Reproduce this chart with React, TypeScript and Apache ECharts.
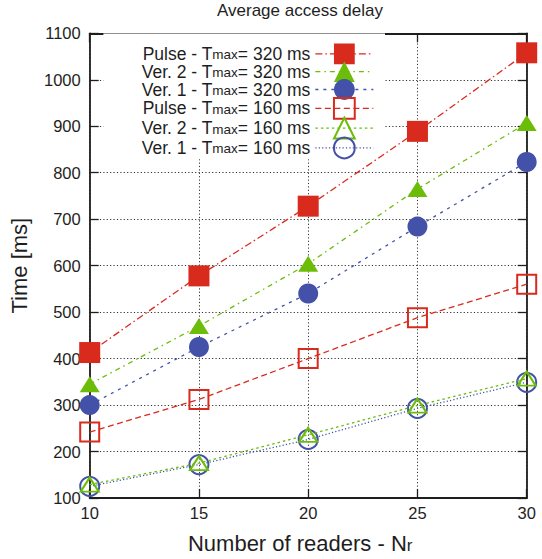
import React, { useEffect, useRef } from 'react';
import * as echarts from 'echarts';

const readers = [10, 15, 20, 25, 30];
const pulse320 = [413, 578, 728, 889, 1058];
const ver2_320 = [345, 470, 604, 765, 907];
const ver1_320 = [300, 425, 540, 684, 823];
const pulse160 = [242, 312, 400, 488, 560];
const ver2_160 = [129, 175, 236, 299, 357];
const ver1_160 = [125, 172, 226, 293, 349];

const seriesNames = [
  'Pulse - Tmax= 320 ms',
  'Ver. 2 - Tmax= 320 ms',
  'Ver. 1 - Tmax= 320 ms',
  'Pulse - Tmax= 160 ms',
  'Ver. 2 - Tmax= 160 ms',
  'Ver. 1 - Tmax= 160 ms',
];

const RED = '#d92a1e';
const GREEN = '#6cbd0a';
const BLUE = '#4351a8';
const FONT = '"Liberation Sans", Arial, Helvetica, sans-serif';
const INK = '#1e1e1e';

type Sty = {
  data: number[];
  color: string;
  dash: number[];
  symbol: string;
  size: number | number[];
  filled: boolean;
};

const styles: Sty[] = [
  { data: pulse320, color: RED, dash: [7, 3, 1.5, 3], symbol: 'rect', size: 21, filled: true },
  { data: ver2_320, color: GREEN, dash: [5, 4, 1.5, 4], symbol: 'triangle', size: [20, 16], filled: true },
  { data: ver1_320, color: BLUE, dash: [3, 5], symbol: 'circle', size: 20, filled: true },
  { data: pulse160, color: RED, dash: [6, 3.5], symbol: 'rect', size: 19, filled: false },
  { data: ver2_160, color: GREEN, dash: [2.5, 3], symbol: 'triangle', size: [18, 14], filled: false },
  { data: ver1_160, color: BLUE, dash: [1.2, 2.2], symbol: 'circle', size: 19, filled: false },
];

export default function App() {
  const ref = useRef<HTMLDivElement>(null);
  useEffect(() => {
    if (!ref.current) return;
    const chart = echarts.init(ref.current, null, { renderer: 'svg' });
    const axisLine = { show: true, lineStyle: { color: INK, width: 1.8 } };
    const tick = { show: true, inside: true, length: 9, lineStyle: { color: INK, width: 1.3 } };
    const split = { show: true, lineStyle: { color: '#333', width: 1, type: [1.2, 2.2] } };
    const series = styles.map((s, i) => ({
      name: seriesNames[i],
      type: 'line',
      data: readers.map((x, j) => [x, s.data[j]]),
      symbol: s.symbol,
      symbolSize: s.size,
      xAxisIndex: 0,
      yAxisIndex: 0,
      lineStyle: { color: s.color, width: 1.3, type: s.dash },
      itemStyle: s.filled
        ? { color: s.color, borderWidth: 0 }
        : { color: 'rgba(255,255,255,0)', borderColor: s.color, borderWidth: 2 },
      z: 3 + (5 - i),
      emphasis: { disabled: true },
    }));
    chart.setOption({
      animation: false,
      title: {
        text: 'Average access delay',
        left: 217,
        top: 2,
        padding: 0,
        textStyle: { fontFamily: FONT, fontSize: 17, fontWeight: 'normal', color: INK },
      },
      grid: { left: 89.7, right: 15.3, top: 33.3, bottom: 60, containLabel: false },
      legend: {
        orient: 'vertical',
        align: 'right',
        right: 157,
        top: 33.5,
        padding: [10, 11, 0, 38],
        backgroundColor: '#ffffff',
        itemWidth: 58,
        itemHeight: 26,
        itemGap: -3,
        selectedMode: false,
        data: styles.map((s, i) => ({
          name: seriesNames[i],
          itemStyle: s.filled
            ? { color: s.color, borderWidth: 0 }
            : { color: 'rgba(255,255,255,0)', borderColor: s.color, borderWidth: 2 },
          lineStyle: { color: s.color, width: 1.3, type: s.dash },
        })),
        formatter: (name: string) => name.replace('Tmax', 'T{s|max}'),
        textStyle: {
          fontFamily: FONT,
          fontSize: 17.5,
          lineHeight: 16,
          color: INK,
          rich: {
            s: { fontFamily: FONT, fontSize: 13.5, color: INK, verticalAlign: 'bottom', lineHeight: 10 },
          },
        },
      },
      xAxis: [
        {
          type: 'value',
          min: 10,
          max: 30,
          interval: 5,
          position: 'bottom',
          name: 'Number of readers - N{s|r}',
          nameLocation: 'middle',
          nameGap: 34,
          nameTextStyle: {
            fontFamily: FONT,
            fontSize: 22,
            color: INK,
            padding: [0, 16, 0, 0],
            rich: { s: { fontFamily: FONT, fontSize: 17, color: INK, verticalAlign: 'bottom', lineHeight: 14 } },
          },
          axisLine: axisLine,
          axisTick: tick,
          axisLabel: { fontFamily: FONT, fontSize: 16.5, color: INK, margin: 6, formatter: (v: number) => String(v) },
          splitLine: split,
        },
        {
          type: 'value',
          min: 10,
          max: 30,
          interval: 5,
          position: 'top',
          axisLine: axisLine,
          axisTick: tick,
          axisLabel: { show: false },
          splitLine: { show: false },
        },
      ],
      yAxis: [
        {
          type: 'value',
          min: 100,
          max: 1100,
          interval: 100,
          position: 'left',
          name: 'Time [ms]',
          nameLocation: 'middle',
          nameGap: 59,
          nameTextStyle: { fontFamily: FONT, fontSize: 22, color: INK },
          axisLine: axisLine,
          axisTick: tick,
          axisLabel: { fontFamily: FONT, fontSize: 16.5, color: INK, margin: 9, formatter: (v: number) => String(v) },
          splitLine: split,
        },
        {
          type: 'value',
          min: 100,
          max: 1100,
          interval: 100,
          position: 'right',
          axisLine: axisLine,
          axisTick: tick,
          axisLabel: { show: false },
          splitLine: { show: false },
        },
      ],
      series,
    });
    return () => chart.dispose();
  }, []);
  return <div ref={ref} style={{ width: 542, height: 559, position: 'absolute', left: 0, top: 0 }} />;
}
